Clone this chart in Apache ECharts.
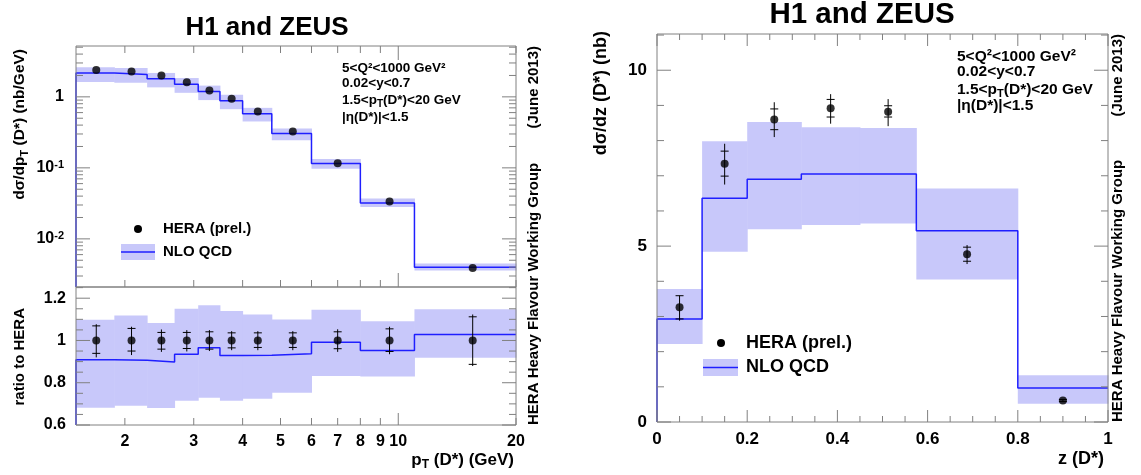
<!DOCTYPE html>
<html>
<head>
<meta charset="utf-8">
<title>H1 and ZEUS - D* cross sections</title>
<script src="https://cdn.jsdelivr.net/npm/echarts@6/dist/echarts.min.js"></script>
<style>
    html, body { margin: 0; padding: 0; background: #fff; }
    #main { width: 1141px; height: 475px; }
</style>
</head>
<body>
<div id="main"></div>
<script>
var FONT = '"Liberation Sans", Arial, Helvetica, sans-serif';
var BAND = '#c8c8fa';
var BLUE = '#1f1fff';
var FRAME = '#808080';

// ---- dsigma/dpT(D*) ----
var ptEdges = [1.5, 1.88, 2.28, 2.68, 3.08, 3.5, 4.0, 4.75, 6.0, 8.0, 11.0, 20.0];
var ptCenters = [1.69, 2.08, 2.48, 2.88, 3.29, 3.75, 4.375, 5.375, 7.0, 9.5, 15.5];
var ptData = [2.38, 2.28, 2.0, 1.6, 1.23, 0.94, 0.62, 0.326, 0.116, 0.0336, 0.0039];
var ptTheory = [2.17, 2.07, 1.80, 1.50, 1.19, 0.88, 0.58, 0.305, 0.115, 0.032, 0.0040];
var ptBandLo = [1.62, 1.58, 1.36, 1.14, 0.90, 0.67, 0.45, 0.245, 0.097, 0.028, 0.0036];
var ptBandHi = [2.61, 2.55, 2.17, 1.84, 1.44, 1.07, 0.70, 0.358, 0.133, 0.037, 0.0045];

// ---- ratio to HERA ----
var ratioPoints = [1, 1, 1, 1, 1, 1, 1, 1, 1, 1, 1];
var ratioTheory = [0.909, 0.906, 0.898, 0.935, 0.965, 0.929, 0.930, 0.937, 0.992, 0.953, 1.028];
var ratioBandLo = [0.682, 0.691, 0.680, 0.715, 0.729, 0.715, 0.724, 0.753, 0.832, 0.830, 0.918];
var ratioBandHi = [1.098, 1.118, 1.083, 1.150, 1.167, 1.139, 1.123, 1.099, 1.145, 1.091, 1.148];
var ratioTotUp = [0.077, 0.065, 0.052, 0.049, 0.049, 0.044, 0.044, 0.044, 0.053, 0.065, 0.123];
var ratioTotDn = [0.080, 0.069, 0.054, 0.052, 0.050, 0.046, 0.046, 0.046, 0.054, 0.065, 0.121];
var ratioStatUp = [0.069, 0.057, 0.038, 0.038, 0.041, 0.036, 0.036, 0.036, 0.041, 0.055, 0.112];
var ratioStatDn = [0.061, 0.050, 0.041, 0.038, 0.041, 0.035, 0.033, 0.033, 0.039, 0.052, 0.113];

// ---- dsigma/dz(D*) ----
var zEdges = [0, 0.1, 0.2, 0.32, 0.45, 0.575, 0.8, 1.0];
var zCenters = [0.05, 0.15, 0.26, 0.385, 0.5125, 0.6875, 0.9];
var zData = [3.26, 7.34, 8.60, 8.92, 8.82, 4.77, 0.61];
var zTheory = [2.93, 6.36, 6.90, 7.05, 7.05, 5.44, 0.97];
var zBandLo = [2.22, 4.84, 5.48, 5.60, 5.64, 4.05, 0.52];
var zBandHi = [3.78, 7.98, 8.53, 8.38, 8.36, 6.64, 1.33];
var zTotUp = [0.33, 0.57, 0.49, 0.40, 0.36, 0.26, 0.04];
var zTotDn = [0.38, 0.59, 0.50, 0.44, 0.41, 0.28, 0.04];
var zStatUp = [0.33, 0.36, 0.30, 0.25, 0.17, 0.20, 0.03];
var zStatDn = [0.33, 0.35, 0.29, 0.25, 0.15, 0.20, 0.03];

// ---- ticks / tick labels ----
var ptTickVals = [2, 3, 4, 5, 6, 7, 8, 9, 10, 20];
var ptTickLabels = ['2', '3', '4', '5', '6', '7', '8', '9', '10', '20'];
var logDecades = [0.001, 0.01, 0.1, 1];
var logDecadeLabels = ['', '{n|10}{p|-2}', '{n|10}{p|-1}', '{n|1}'];
var ratioMajor = [0.6, 0.8, 1.0, 1.2];
var zMajorX = [0, 0.2, 0.4, 0.6, 0.8, 1.0];
var zMajorY = [0, 5, 10];

var ptMin = 1.5, ptMax = 20, logMin = 0.0021, logMax = 5.2;
var ratioMin = 0.6, ratioMax = 1.253, zMin = 0, zMax = 1, zyMin = 0, zyMax = 11.03;

function richSet(size, small, shift) {
    var base = {fontFamily: FONT, fontWeight: 'bold', fill: '#000'};
    return {
        n: Object.assign({fontSize: size, lineHeight: size}, base),
        s: Object.assign({fontSize: small, lineHeight: small, padding: [shift * 2, 0, 0, 0]}, base),
        p: Object.assign({fontSize: small, lineHeight: small, padding: [0, 0, shift * 2, 0], verticalAlign: 'top'}, base)
    };
}

function stepData(edges, vals, floor) {
    var d = [[edges[0], floor]];
    for (var i = 0; i < vals.length; i++) d.push([edges[i], vals[i]]);
    d.push([edges[edges.length - 1], vals[vals.length - 1]]);
    return d;
}

function bandSeries(g, edges, lo, hi) {
    return {
        type: 'custom', xAxisIndex: g, yAxisIndex: g, silent: true, z: 1,
        data: lo.map(function (v, i) { return [edges[i], edges[i + 1], lo[i], hi[i]]; }),
        renderItem: function (params, api) {
            var a = api.coord([api.value(0), api.value(3)]);
            var b = api.coord([api.value(1), api.value(2)]);
            return {
                type: 'rect',
                shape: {x: a[0], y: a[1], width: b[0] - a[0] + 0.5, height: b[1] - a[1]},
                style: {fill: BAND}
            };
        }
    };
}

function lineSeries(g, data) {
    return {
        type: 'line', xAxisIndex: g, yAxisIndex: g, step: 'end', symbol: 'none', silent: true, z: 2,
        lineStyle: {color: BLUE, width: 1.5}, data: data
    };
}

function pointSeries(g, xs, ys) {
    return {
        type: 'scatter', xAxisIndex: g, yAxisIndex: g, symbol: 'circle', symbolSize: 8, silent: true, z: 4,
        itemStyle: {color: '#000'},
        data: xs.map(function (x, i) { return [x, ys[i]]; })
    };
}

function errorSeries(g, xs, ys, tu, td, su, sd) {
    return {
        type: 'custom', xAxisIndex: g, yAxisIndex: g, silent: true, z: 3,
        data: xs.map(function (x, i) {
            return [x, ys[i], ys[i] + tu[i], ys[i] - td[i], ys[i] + su[i], ys[i] - sd[i]];
        }),
        renderItem: function (params, api) {
            var x = api.value(0);
            var top = api.coord([x, api.value(2)]);
            var bot = api.coord([x, api.value(3)]);
            var st = api.coord([x, api.value(4)]);
            var sb = api.coord([x, api.value(5)]);
            var s = {stroke: '#000', lineWidth: 1};
            return {
                type: 'group', children: [
                    {type: 'line', shape: {x1: top[0], y1: top[1], x2: bot[0], y2: bot[1]}, style: s},
                    {type: 'line', shape: {x1: st[0] - 4, y1: st[1], x2: st[0] + 4, y2: st[1]}, style: s},
                    {type: 'line', shape: {x1: sb[0] - 4, y1: sb[1], x2: sb[0] + 4, y2: sb[1]}, style: s}
                ]
            };
        }
    };
}

// frame, ticks on all sides and the labels of the log axes
function frameSeries(g, ref, spec) {
    return {
        type: 'custom', xAxisIndex: g, yAxisIndex: g, silent: true, z: 6,
        data: [ref],
        renderItem: function (params, api) {
            var cs = params.coordSys;
            var st = {stroke: FRAME, lineWidth: 1};
            var kids = [{type: 'rect', shape: {x: cs.x, y: cs.y, width: cs.width, height: cs.height},
                style: {fill: null, stroke: FRAME, lineWidth: 1}}];
            var bottom = cs.y + cs.height, right = cs.x + cs.width;
            (spec.x || []).forEach(function (t) {
                var px = api.coord([t[0], ref[1]])[0];
                if (spec.bottom) kids.push({type: 'line', shape: {x1: px, y1: bottom, x2: px, y2: bottom - t[1]}, style: st});
                if (spec.top) kids.push({type: 'line', shape: {x1: px, y1: cs.y, x2: px, y2: cs.y + t[1]}, style: st});
            });
            (spec.y || []).forEach(function (t) {
                var py = api.coord([ref[0], t[0]])[1];
                kids.push({type: 'line', shape: {x1: cs.x, y1: py, x2: cs.x + t[1], y2: py}, style: st});
                kids.push({type: 'line', shape: {x1: right, y1: py, x2: right - t[1], y2: py}, style: st});
            });
            (spec.xLabels || []).forEach(function (t) {
                var px = api.coord([t[0], ref[1]])[0];
                kids.push({type: 'text', x: px, y: bottom + 17, style: {text: t[1], fill: '#000',
                    fontFamily: FONT, fontWeight: 'bold', fontSize: 16, align: 'center', verticalAlign: 'middle'}});
            });
            (spec.yLabels || []).forEach(function (t) {
                if (!t[1]) return;
                var py = api.coord([ref[0], t[0]])[1];
                kids.push({type: 'text', x: cs.x - 12, y: py, style: {text: t[1], fill: '#000',
                    align: 'right', verticalAlign: 'middle', rich: richSet(16, 11, 3.5)}});
            });
            return {type: 'group', children: kids};
        }
    };
}

// tick lists
var ptXTicks = ptTickVals.map(function (v) { return [v, v === 10 ? 14 : 7]; });
var ratioXTicks = ptTickVals.map(function (v) { return [v, v === 10 ? 12 : 7]; });
var logYTicks = [];
logDecades.forEach(function (d) {
    [1, 2, 3, 4, 5, 6, 7, 8, 9].forEach(function (m) {
        var v = d * m;
        if (v >= logMin && v <= logMax) logYTicks.push([v, m === 1 ? 14 : 7]);
    });
});
var ratioYTicks = [];
for (var r = 12; r <= 25; r++) ratioYTicks.push([r / 20, r % 4 === 0 ? 14 : 7]);
var zXTicks = [];
for (var k = 0; k <= 20; k++) zXTicks.push([k / 20, k % 4 === 0 ? 12 : 6]);
var zYTicks = [];
for (var j = 0; j <= 11; j++) zYTicks.push([j, j % 5 === 0 ? 14 : 7]);

var labelStyle = {color: '#000', fontFamily: FONT, fontWeight: 'bold'};
function hiddenAxis(extra) {
    return Object.assign({
        axisLine: {show: false}, axisTick: {show: false}, axisLabel: {show: false}, splitLine: {show: false}
    }, extra);
}

function txt(x, y, text, size, o) {
    o = o || {};
    return {
        type: 'text', x: x, y: y, rotation: o.rot || 0, silent: true,
        style: {
            text: text, fill: '#000', fontFamily: FONT, fontWeight: 'bold', fontSize: size,
            align: o.align || 'left', verticalAlign: 'middle', rich: richSet(size, o.small || Math.round(size * 0.72), o.shift || 3)
        }
    };
}

var chart = echarts.init(document.getElementById('main'));
chart.setOption({
    animation: false,
    backgroundColor: '#fff',
    grid: [
        {left: 76, top: 46, width: 440, height: 241},
        {left: 76, top: 287, width: 440, height: 138},
        {left: 657, top: 34, width: 451, height: 388}
    ],
    xAxis: [
        hiddenAxis({gridIndex: 0, type: 'log', min: ptMin, max: ptMax}),
        hiddenAxis({gridIndex: 1, type: 'log', min: ptMin, max: ptMax}),
        hiddenAxis({gridIndex: 2, type: 'value', min: zMin, max: zMax, interval: 0.2,
            axisLabel: Object.assign({show: true, fontSize: 17, margin: 9}, labelStyle)})
    ],
    yAxis: [
        hiddenAxis({gridIndex: 0, type: 'log', min: logMin, max: logMax}),
        hiddenAxis({gridIndex: 1, type: 'value', min: ratioMin, max: ratioMax, interval: 0.2,
            axisLabel: Object.assign({show: true, fontSize: 16, margin: 10, formatter: function (v) {
                return ratioMajor.some(function (m) { return Math.abs(m - v) < 1e-6; }) ? String(+v.toFixed(1)) : '';
            }}, labelStyle)}),
        hiddenAxis({gridIndex: 2, type: 'value', min: zyMin, max: zyMax, interval: 5,
            axisLabel: Object.assign({show: true, fontSize: 17, margin: 10, formatter: function (v) {
                return zMajorY.indexOf(v) >= 0 ? String(v) : '';
            }}, labelStyle)})
    ],
    series: [
        bandSeries(0, ptEdges, ptBandLo, ptBandHi),
        lineSeries(0, stepData(ptEdges, ptTheory, logMin)),
        pointSeries(0, ptCenters, ptData),
        frameSeries(0, [2, 1], {x: ptXTicks, top: true, bottom: true, y: logYTicks,
            yLabels: logDecades.map(function (d, i) { return [d, logDecadeLabels[i]]; })}),

        bandSeries(1, ptEdges, ratioBandLo, ratioBandHi),
        lineSeries(1, stepData(ptEdges, ratioTheory, ratioMin)),
        errorSeries(1, ptCenters, ratioPoints, ratioTotUp, ratioTotDn, ratioStatUp, ratioStatDn),
        pointSeries(1, ptCenters, ratioPoints),
        frameSeries(1, [2, 1], {x: ratioXTicks, bottom: true, y: ratioYTicks,
            xLabels: ptTickVals.map(function (v, i) { return [v, ptTickLabels[i]]; })}),

        bandSeries(2, zEdges, zBandLo, zBandHi),
        lineSeries(2, stepData(zEdges, zTheory, zyMin)),
        errorSeries(2, zCenters, zData, zTotUp, zTotDn, zStatUp, zStatDn),
        pointSeries(2, zCenters, zData),
        frameSeries(2, [0.5, 5], {x: zXTicks, top: true, bottom: true, y: zYTicks})
    ],
    graphic: [
        // left pad
        txt(267, 28, 'H1 and ZEUS', 26, {align: 'center'}),
        txt(20, 49, '{n|dσ/dp}{s|T}{n| (D*) (nb/GeV)}', 15.5, {rot: Math.PI / 2, align: 'right', small: 11, shift: 4.5}),
        txt(20, 308, 'ratio to HERA', 15, {rot: Math.PI / 2, align: 'right'}),
        txt(514, 460, '{n|p}{s|T}{n| (D*) (GeV)}', 17, {align: 'right', small: 12, shift: 4.5}),
        txt(342, 68, '5<Q²<1000 GeV²', 13.5),
        txt(342, 83, '0.02<y<0.7', 13.5),
        txt(342, 100, '{n|1.5<p}{s|T}{n|(D*)<20 GeV}', 13.5, {small: 10, shift: 4}),
        txt(342, 117, '|η(D*)|<1.5', 13.5),
        {type: 'circle', shape: {cx: 138, cy: 229, r: 4}, style: {fill: '#000'}, silent: true},
        txt(163, 229, 'HERA (prel.)', 15),
        {type: 'rect', shape: {x: 121, y: 244, width: 34, height: 16}, style: {fill: BAND}, silent: true},
        {type: 'line', shape: {x1: 121, y1: 252, x2: 155, y2: 252}, style: {stroke: BLUE, lineWidth: 1.5}, silent: true},
        txt(163, 252, 'NLO QCD', 15),
        txt(534, 425, 'HERA Heavy Flavour Working Group', 15, {rot: Math.PI / 2}),
        txt(534, 46, '(June 2013)', 15, {rot: Math.PI / 2, align: 'right'}),

        // right pad
        txt(862, 15, 'H1 and ZEUS', 29.5, {align: 'center'}),
        txt(601, 31, 'dσ/dz (D*) (nb)', 18, {rot: Math.PI / 2, align: 'right'}),
        txt(1104, 459, 'z (D*)', 18, {align: 'right'}),
        txt(957, 57, '5<Q²<1000 GeV²', 15.5),
        txt(957, 72, '0.02<y<0.7', 15.5),
        txt(957, 90, '{n|1.5<p}{s|T}{n|(D*)<20 GeV}', 15.5, {small: 11, shift: 4}),
        txt(957, 106, '|η(D*)|<1.5', 15.5),
        {type: 'circle', shape: {cx: 721, cy: 343, r: 4}, style: {fill: '#000'}, silent: true},
        txt(746, 343, 'HERA (prel.)', 18),
        {type: 'rect', shape: {x: 703, y: 359, width: 35, height: 17}, style: {fill: BAND}, silent: true},
        {type: 'line', shape: {x1: 703, y1: 367.5, x2: 738, y2: 367.5}, style: {stroke: BLUE, lineWidth: 1.5}, silent: true},
        txt(746, 367, 'NLO QCD', 18),
        txt(1118, 422, 'HERA Heavy Flavour Working Group', 15, {rot: Math.PI / 2}),
        txt(1118, 34, '(June 2013)', 15, {rot: Math.PI / 2, align: 'right'})
    ]
});
</script>
</body>
</html>
